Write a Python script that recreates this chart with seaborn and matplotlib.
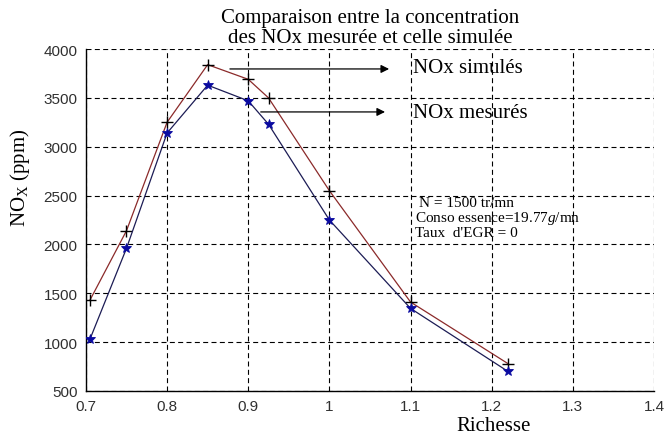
import matplotlib
matplotlib.use('Agg')
import matplotlib.pyplot as plt
import seaborn as sns
import pandas as pd

# Valeurs
richesse = [0.705, 0.75, 0.8, 0.85, 0.9, 0.925, 1.0, 1.1, 1.22]
nox_simule = [1430, 2140, 3250, 3840, 3690, 3500, 2550, 1410, 780]
nox_mesure = [1030, 1960, 3140, 3630, 3470, 3230, 2250, 1345, 700]

x_ticks = [0.7, 0.8, 0.9, 1.0, 1.1, 1.2, 1.3, 1.4]
x_tick_labels = ['0.7', '0.8', '0.9', '1', '1.1', '1.2', '1.3', '1.4']
y_ticks = [500, 1000, 1500, 2000, 2500, 3000, 3500, 4000]

titre = 'Comparaison entre la concentration\ndes NOx mesurée et celle simulée'
conditions = ['N = 1500 tr/mn', 'Conso essence=19.77$g$/mn', "Taux  d'EGR = 0"]

sns.set_style('white')
plt.rcParams['font.family'] = ['Liberation Serif', 'DejaVu Serif']
plt.rcParams['text.color'] = 'black'
plt.rcParams['axes.labelcolor'] = 'black'
plt.rcParams['mathtext.fontset'] = 'custom'
plt.rcParams['mathtext.rm'] = 'Liberation Serif'
plt.rcParams['mathtext.it'] = 'Liberation Serif:italic'

df = pd.DataFrame({'richesse': richesse, 'simule': nox_simule, 'mesure': nox_mesure})

fig = plt.figure(figsize=(6.66, 4.35), dpi=100)
ax = fig.add_axes([0.129, 0.099, 0.853, 0.786])

# courbes
sns.lineplot(data=df, x='richesse', y='simule', ax=ax, color='#8b2a2a', lw=0.9,
             marker='+', markersize=9, markeredgecolor='black', markeredgewidth=1.0,
             sort=False, estimator=None, legend=False, zorder=3)
sns.lineplot(data=df, x='richesse', y='mesure', ax=ax, color='#1c1c55', lw=0.9,
             marker='*', markersize=7, markeredgecolor='#0a0aa0', markerfacecolor='#0a0aa0',
             markeredgewidth=0.6, sort=False, estimator=None, legend=False, zorder=3)

ax.set_xlim(0.7, 1.4)
ax.set_ylim(500, 4000)
ax.set_xticks(x_ticks)
ax.set_xticklabels(x_tick_labels)
ax.set_yticks(y_ticks)
ax.tick_params(direction='in', length=4, width=0.8, pad=6, labelsize=11,
               labelcolor='#303030')
for lab in ax.get_xticklabels() + ax.get_yticklabels():
    lab.set_family('Liberation Sans')

ax.grid(True, color='black', linestyle=(0, (4.5, 3)), linewidth=0.8)
for s in ['top', 'right']:
    ax.spines[s].set_visible(False)
for s in ['left', 'bottom']:
    ax.spines[s].set_color('black')
    ax.spines[s].set_linewidth(1.0)

ax.set_xlabel('Richesse', fontsize=15)
ax.set_ylabel(r'NO$_\mathrm{X}$ (ppm)', fontsize=15)
ax.xaxis.set_label_coords(0.718, -0.072)
ax.yaxis.set_label_coords(-0.095, 0.626)

ax.text(0.5, 1.006, titre, transform=ax.transAxes, ha='center', va='bottom',
        fontsize=15, linespacing=1.1)

# flèches et légendes
ax.annotate('', xy=(1.077, 3796), xytext=(0.874, 3796),
            arrowprops=dict(arrowstyle='-|>', color='black', lw=0.9, mutation_scale=12))
ax.annotate('', xy=(1.072, 3356), xytext=(0.912, 3356),
            arrowprops=dict(arrowstyle='-|>', color='black', lw=0.9, mutation_scale=12))
ax.text(1.103, 3765, 'NOx simulés', fontsize=15, va='baseline')
ax.text(1.103, 3305, 'NOx mesurés', fontsize=15, va='baseline')

ax.text(1.111, 2390, conditions[0], fontsize=11, va='baseline')
ax.text(1.106, 2236, conditions[1], fontsize=11, va='baseline')
ax.text(1.106, 2085, conditions[2], fontsize=11, va='baseline')

fig.savefig('out.png', dpi=100)
